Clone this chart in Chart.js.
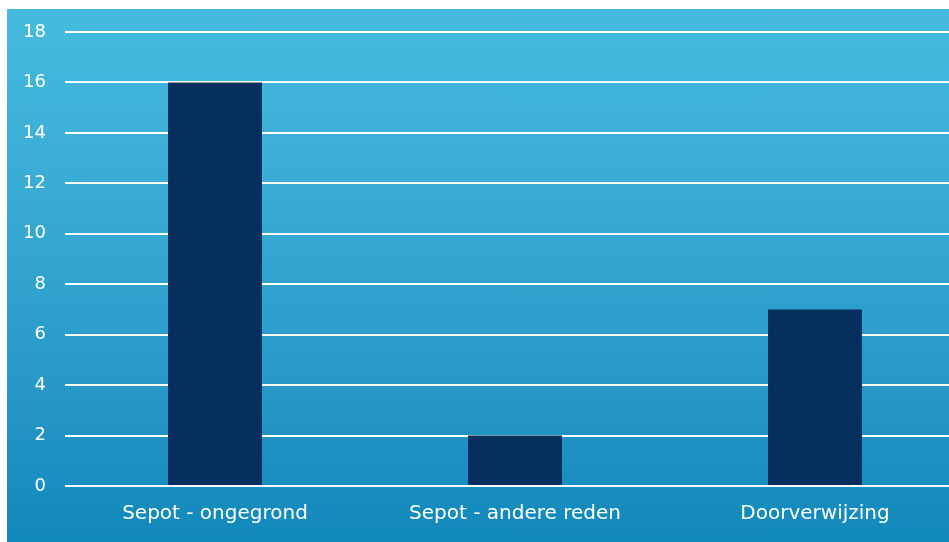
<!DOCTYPE html>
<html>
<head>
<meta charset="utf-8">
<script src="https://cdn.jsdelivr.net/npm/chart.js@4"></script>
<style>
    html, body { margin: 0; padding: 0; background: #ffffff; overflow: hidden; }
    #wrap { position: relative; width: 949px; height: 542px; overflow: hidden; }
    #bg {
        position: absolute; left: 7px; top: 9px; right: 0; bottom: 0;
        background: linear-gradient(to bottom, #46bbdf 0%, #36a9d3 40%, #2496c6 75%, #1188bb 100%);
    }
    #box { position: absolute; left: 0; top: 0; width: 1000px; height: 542px; }
</style>
</head>
<body>
<div id="wrap">
    <div id="bg"></div>
    <div id="box"><canvas id="chart"></canvas></div>
</div>
<script>
// categorieën en waarden
const categories = ['Sepot - ongegrond', 'Sepot - andere reden', 'Doorverwijzing'];
const values = [16, 2, 7];
const yTicks = [0, 2, 4, 6, 8, 10, 12, 14, 16, 18];

const fontFam = '"DejaVu Sans", sans-serif';

new Chart(document.getElementById('chart'), {
    type: 'bar',
    data: {
        labels: categories,
        datasets: [{
            data: values,
            backgroundColor: '#062e5f',
            borderWidth: 0,
            categoryPercentage: 1,
            barPercentage: 0.313
        }]
    },
    options: {
        responsive: true,
        maintainAspectRatio: false,
        animation: false,
        layout: { padding: { top: 32, right: 35, left: 0, bottom: 0 } },
        plugins: {
            legend: { display: false },
            tooltip: { enabled: false }
        },
        scales: {
            x: {
                grid: { display: false },
                border: { display: false },
                ticks: { color: '#ffffff', font: { family: fontFam, size: 20 }, padding: 8, maxRotation: 0 },
                afterFit: function(scale) { scale.height = 56; }
            },
            y: {
                min: 0,
                max: 18,
                afterBuildTicks: function(scale) {
                    scale.ticks = yTicks.map(v => ({ value: v }));
                },
                grid: { color: '#ffffff', lineWidth: 2, drawTicks: false },
                border: { display: false },
                ticks: { color: '#ffffff', font: { family: fontFam, size: 18 }, padding: 19 },
                afterFit: function(scale) { scale.width = 65; }
            }
        }
    }
});
</script>
</body>
</html>
